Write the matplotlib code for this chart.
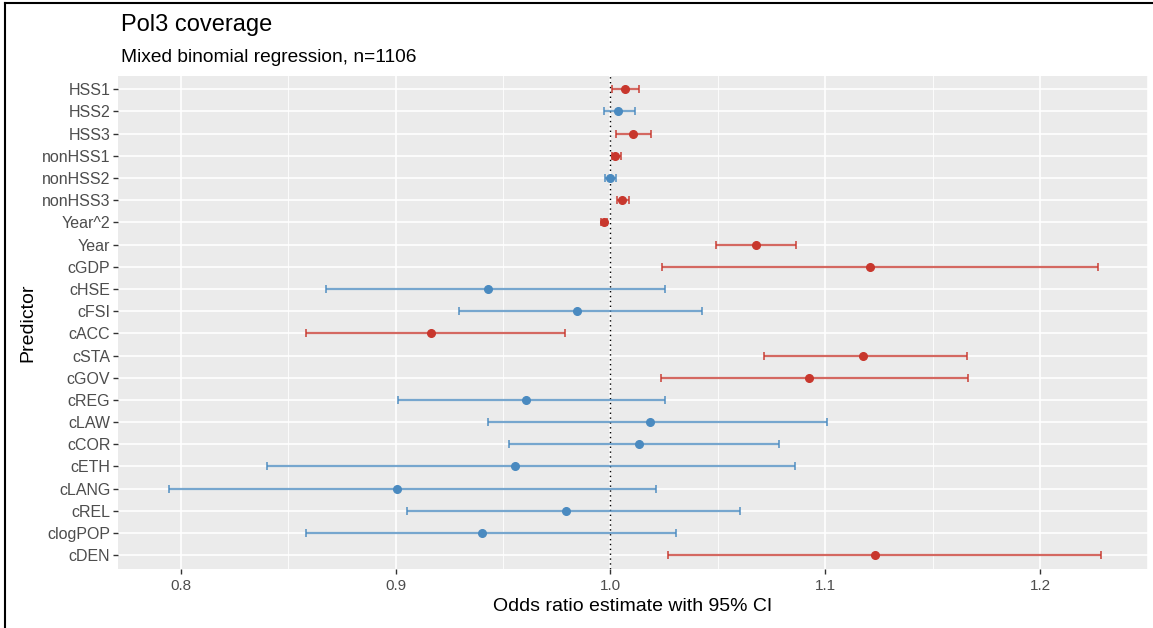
import matplotlib
matplotlib.use("Agg")
import matplotlib.pyplot as plt
from matplotlib.lines import Line2D

plt.rcParams['font.family'] = ['Liberation Sans', 'DejaVu Sans']

predictors = ["HSS1", "HSS2", "HSS3", "nonHSS1", "nonHSS2", "nonHSS3", "Year^2", "Year",
              "cGDP", "cHSE", "cFSI", "cACC", "cSTA", "cGOV", "cREG", "cLAW", "cCOR",
              "cETH", "cLANG", "cREL", "clogPOP", "cDEN"]
estimate = [1.0068, 1.0036, 1.0105, 1.0022, 1.0000, 1.0056, 0.9969, 1.0680,
            1.1208, 0.9430, 0.9844, 0.9164, 1.1178, 1.0926, 0.9608, 1.0185, 1.0135,
            0.9554, 0.9007, 0.9794, 0.9404, 1.1234]
ci_low = [1.0006, 0.9971, 1.0025, 1.0008, 0.9975, 1.0031, 0.9958, 1.0493,
          1.0240, 0.8676, 0.9295, 0.8581, 1.0716, 1.0235, 0.9009, 0.9430, 0.9529,
          0.8401, 0.7945, 0.9052, 0.8581, 1.0270]
ci_high = [1.0132, 1.0113, 1.0187, 1.0051, 1.0026, 1.0087, 0.9983, 1.0863,
           1.2271, 1.0252, 1.0425, 0.9788, 1.1660, 1.1665, 1.0253, 1.1007, 1.0786,
           1.0858, 1.0214, 1.0605, 1.0307, 1.2283]
significant = [True, False, True, True, False, True, True, True,
               True, False, False, True, True, True, False, False, False,
               False, False, False, False, True]
x_ticks = [0.8, 0.9, 1.0, 1.1, 1.2]
x_tick_labels = ["0.8", "0.9", "1.0", "1.1", "1.2"]

RED = "#C8372D"
BLUE = "#4A8AC0"

W, H = 1153, 628
fig = plt.figure(figsize=(W / 100, H / 100), dpi=100)
ax = fig.add_axes([118 / W, 1 - 568.5 / H, (1148 - 118) / W, (568.5 - 76) / H])

ax.set_facecolor("#EBEBEB")
n = len(predictors)
ypos = list(range(n))
ax.set_ylim(n - 1 + 0.6, -0.6)
ax.set_xlim(0.7707, 1.2503)

# gridlines
for v in [0.85, 0.95, 1.05, 1.15, 1.25]:
    ax.axvline(v, color="white", lw=0.6, zorder=0)
for v in x_ticks:
    ax.axvline(v, color="white", lw=1.2, zorder=0)
for y in ypos:
    ax.axhline(y, color="white", lw=1.2, zorder=0)

ax.axvline(1.0, color="black", lw=1.0, ls=(0, (1, 2.5)), zorder=1)

for i in range(n):
    c = RED if significant[i] else BLUE
    ax.errorbar([estimate[i]], [i], xerr=[[estimate[i] - ci_low[i]], [ci_high[i] - estimate[i]]],
                fmt="none", ecolor=c, elinewidth=1.6, capsize=3.2, capthick=1.4, alpha=0.75, zorder=2)
    ax.plot([estimate[i]], [i], "o", color=c, ms=5.5, zorder=3)

ax.set_yticks(ypos)
ax.set_yticklabels(predictors)
ax.set_xticks(x_ticks)
ax.set_xticklabels(x_tick_labels)
ax.tick_params(axis="both", colors="#333333", labelcolor="#4D4D4D", length=3.5, width=1)
ax.tick_params(axis="y", labelsize=11.5, pad=2)
ax.tick_params(axis="x", labelsize=11, pad=4)
for s in ax.spines.values():
    s.set_visible(False)

ax.set_xlabel("Odds ratio estimate with 95% CI", fontsize=14, color="black", labelpad=4)
ax.set_ylabel("Predictor", fontsize=14, color="black", labelpad=4)

fig.text(121 / W, 1 - 25 / H, "Pol3 coverage", fontsize=17, va="center", ha="left")
fig.text(121 / W, 1 - 57 / H, "Mixed binomial regression, n=1106", fontsize=13.8, va="center", ha="left")

# frame lines of the screenshot
fig.add_artist(Line2D([5 / W, 5 / W], [0, 1 - 3 / H], color="black", lw=1.5))
fig.add_artist(Line2D([5 / W, 1], [1 - 3 / H, 1 - 3 / H], color="black", lw=1.5))

fig.savefig("out.png", dpi=100)
